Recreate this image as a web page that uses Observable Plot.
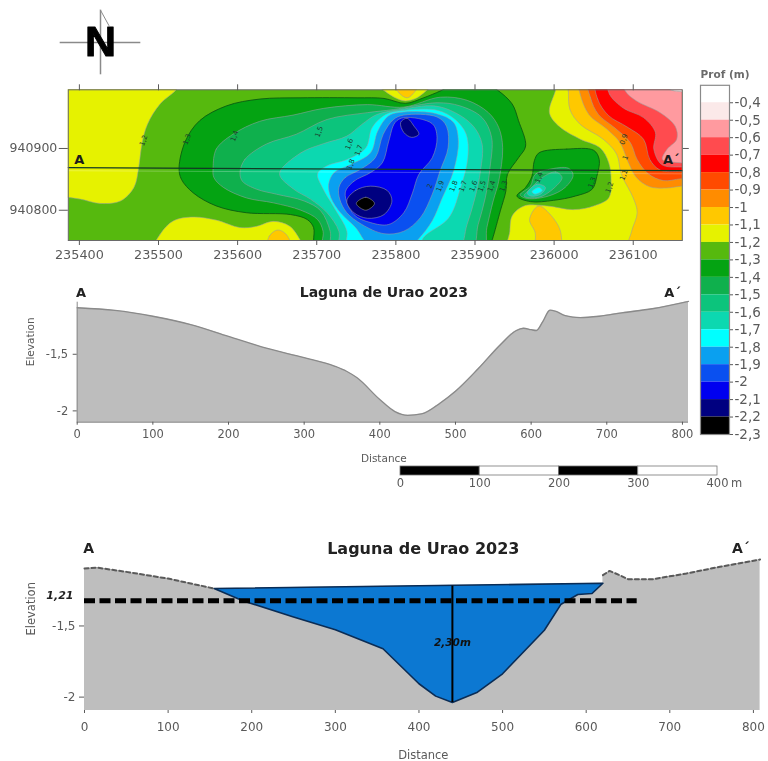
<!DOCTYPE html>
<html><head><meta charset="utf-8">
<script src="https://cdn.jsdelivr.net/npm/d3@7"></script>
<script src="https://cdn.jsdelivr.net/npm/@observablehq/plot@0.6"></script>
<style>
html,body{margin:0;background:#fff;overflow:hidden}
#page{position:relative;width:768px;height:761px;overflow:hidden}
#page svg{position:absolute;background:transparent;overflow:visible;filter:blur(0.45px)}
</style></head><body><div id="page"></div>
<script>
// ---------- legend ----------
const levelTicks = [-0.4,-0.5,-0.6,-0.7,-0.8,-0.9,-1,-1.1,-1.2,-1.3,-1.4,-1.5,-1.6,-1.7,-1.8,-1.9,-2,-2.1,-2.2,-2.3];
const levelTops = [-0.3,-0.4,-0.5,-0.6,-0.7,-0.8,-0.9,-1,-1.1,-1.2,-1.3,-1.4,-1.5,-1.6,-1.7,-1.8,-1.9,-2,-2.1,-2.2];
const levelColors = ["#ffffff","#fbe9e9","#ff9a9f","#ff4b4f","#ff0000","#ff4a00","#ff8c00","#ffc800","#e6f200","#56b90e","#04a312","#0fb04d","#0cc47c","#0cd8b0","#00ffff","#0aa0f0","#0a50f0","#0000f0","#000080","#000000"];
const colorOf = t => levelColors[levelTops.indexOf(t)];

// ---------- map contour bands (easting, northing) ----------
const yellowWest = [[235363,941020],[235534,941020],[235523,940996],[235502,940972],[235486,940939],[235479,940907],[235475,940869],[235469,940837],[235452,940815],[235426,940811],[235401,940818],[235384,940821],[235363,940823]];
const yellowSouth = [[235494,940734],[235502,940761],[235519,940783],[235544,940789],[235573,940784],[235603,940772],[235624,940774],[235645,940782],[235666,940774],[235680,940750],[235687,940734]];
const amberSouth = [[235638,940734],[235640,940758],[235651,940768],[235662,940760],[235668,940734]];
const dark13 = [[235526,940869],[235534,940912],[235552,940945],[235586,940969],[235628,940980],[235680,940982],[235751,940982],[235785,940981],[235812,940973],[235835,940982],[235856,940993],[235869,941001],[235919,941001],[235930,940993],[235947,940972],[235955,940945],[235964,940904],[235955,940885],[235941,940858],[235939,940831],[235932,940799],[235922,940753],[235917,940734],[235696,940734],[235696,940751],[235696,940772],[235688,940785],[235667,940793],[235611,940796],[235573,940807],[235544,940828],[235529,940850]];
const yellowNorth = [[235774,941007],[235787,940992],[235801,940981],[235812,940977],[235825,940981],[235837,940992],[235848,941007],[235812,941020]];
const amberNorth = [[235797,941007],[235804,940990],[235814,940982],[235822,940989],[235829,941007],[235814,941018]];
const band14 = [[235569,940869],[235573,940899],[235594,940923],[235628,940944],[235670,940954],[235709,940965],[235764,940971],[235810,940967],[235856,940983],[235890,940978],[235917,940958],[235930,940934],[235935,940901],[235930,940847],[235923,940815],[235915,940772],[235909,940734],[235709,940734],[235708,940766],[235701,940785],[235680,940800],[235645,940812],[235611,940820],[235582,940837],[235570,940853]];
const band15 = [[235603,940861],[235609,940882],[235636,940907],[235674,940923],[235713,940947],[235764,940958],[235797,940963],[235852,940974],[235881,940969],[235909,940950],[235921,940918],[235919,940869],[235913,940820],[235904,940777],[235894,940734],[235720,940734],[235717,940766],[235705,940799],[235684,940815],[235649,940826],[235624,940834],[235606,940847]];
const band16 = [[235653,940859],[235680,940893],[235709,940908],[235738,940920],[235757,940939],[235776,940955],[235806,940963],[235848,940969],[235875,940958],[235898,940936],[235909,940907],[235907,940864],[235900,940820],[235890,940777],[235877,940734],[235730,940734],[235728,940766],[235713,940796],[235692,940818],[235671,940834]];
const band17 = [[235701,940859],[235713,940872],[235738,940882],[235762,940901],[235770,940934],[235787,940955],[235806,940961],[235852,940962],[235875,940947],[235889,940923],[235891,940885],[235882,940837],[235867,940788],[235835,940756],[235827,940734],[235738,940734],[235738,940766],[235722,940804],[235707,940837]];
const band18 = [[235715,940842],[235722,940861],[235743,940874],[235768,940893],[235777,940928],[235791,940953],[235810,940959],[235852,940956],[235873,940942],[235879,940912],[235873,940864],[235858,940818],[235846,940783],[235829,940754],[235812,940735],[235772,940735],[235749,940772],[235730,940796],[235718,940820]];
const band19 = [[235728,940837],[235736,940853],[235755,940866],[235774,940885],[235784,940923],[235797,940947],[235810,940954],[235852,940951],[235864,940936],[235866,940901],[235856,940864],[235846,940826],[235831,940788],[235810,940766],[235785,940762],[235757,940777],[235738,940796],[235729,940818]];
const band20 = [[235736,940828],[235747,940847],[235768,940861],[235783,940877],[235791,940912],[235799,940942],[235810,940950],[235846,940940],[235852,940918],[235846,940885],[235829,940858],[235821,940828],[235810,940796],[235791,940777],[235768,940780],[235747,940793]];
const navySouth = [[235738,940815],[235749,940832],[235768,940839],[235789,940832],[235795,940815],[235785,940793],[235764,940787],[235747,940796]];
const navyNorth = [[235806,940942],[235814,940949],[235823,940936],[235829,940923],[235820,940918],[235810,940926]];
const blackSouth = [[235750,940811],[235762,940821],[235773,940811],[235762,940800]];
const island13 = [[235981,940893],[236016,940899],[236050,940897],[236057,940882],[236054,940855],[236048,940834],[236027,940823],[235999,940816],[235970,940814],[235953,940823],[235964,940837],[235972,940855],[235975,940880]];
const island14 = [[235976,940858],[235993,940866],[236018,940868],[236024,940857],[236014,940837],[235993,940823],[235966,940819],[235957,940825],[235970,940839]];
const island15 = [[235985,940853],[236002,940862],[236010,940853],[236000,940836],[235981,940821],[235962,940823],[235972,940837]];
const island16 = [[235966,940828],[235978,940842],[235989,940837],[235983,940826],[235970,940823]];
const island17 = [[235972,940830],[235981,940837],[235985,940832],[235976,940826]];
const yellowEast = [[236002,941009],[236002,940996],[235994,940958],[236007,940935],[236033,940915],[236058,940901],[236069,940877],[236072,940847],[236069,940820],[236050,940807],[236025,940801],[235991,940807],[235962,940807],[235947,940791],[235944,940766],[235943,940734],[236201,940734],[236201,941009]];
const amberEast = [[236017,941009],[236018,940993],[236020,940963],[236033,940939],[236062,940915],[236079,940891],[236085,940858],[236100,940820],[236105,940796],[236098,940766],[236094,940734],[236201,940734],[236201,941009]];
const amberIsland = [[235969,940785],[235980,940807],[235993,940796],[236008,940766],[236006,940734],[235978,940734],[235976,940764]];
const orangeEast = [[236032,941009],[236033,940988],[236044,940955],[236067,940931],[236083,940910],[236094,940877],[236104,940853],[236121,940838],[236142,940836],[236161,940839],[236201,940842],[236201,941009]];
const deepOrangeEast = [[236044,941009],[236046,940982],[236056,940955],[236077,940933],[236096,940910],[236105,940882],[236119,940859],[236138,940848],[236161,940851],[236201,940853],[236201,941009]];
const redEast = [[236054,941009],[236055,940980],[236069,940953],[236092,940935],[236113,940915],[236121,940882],[236134,940865],[236161,940863],[236201,940866],[236201,941009]];
const lightRedEast = [[236069,941009],[236070,940988],[236088,940965],[236113,940950],[236128,940926],[236126,940899],[236136,940874],[236161,940870],[236201,940872],[236201,941009]];
const pinkEast = [[236088,941009],[236090,940993],[236104,940977],[236134,940958],[236153,940936],[236155,940915],[236143,940899],[236137,940882],[236159,940877],[236201,940877],[236201,941009]];
const paleEast = [[236142,941009],[236146,940996],[236161,940992],[236201,940992],[236201,941009]];

const contourBands = [
  [-1.1,yellowWest],[-1.1,yellowSouth],[-1,amberSouth],[-1.3,dark13],[-1.1,yellowNorth],[-1,amberNorth],
  [-1.4,band14],[-1.5,band15],[-1.6,band16],[-1.7,band17],[-1.8,band18],[-1.9,band19],[-2,band20],
  [-2.1,navySouth],[-2.1,navyNorth],[-2.2,blackSouth],
  [-1.3,island13],[-1.4,island14],[-1.5,island15],[-1.6,island16],[-1.7,island17],
  [-1.1,yellowEast],[-1,amberEast],[-1,amberIsland],[-0.9,orangeEast],[-0.8,deepOrangeEast],[-0.7,redEast],[-0.6,lightRedEast],[-0.5,pinkEast],[-0.4,paleEast]
];
const contourLabelText = ["1,2","1,3","1,4","1,5","1,6","1,7","1,8","2","1,9","1,8","1,7","1,6","1,5","1,4","1,3","1,4","1,3","1,2","0,9","1","1,1"];
const contourLabelX = [235481,235536,235596,235703,235741,235753,235743,235843,235856,235873,235885,235898,235909,235921,235936,235981,236048,236070,236088,236090,236088];
const contourLabelY = [940913,940915,940920,940927,940907,940897,940874,940839,940839,940839,940839,940839,940839,940839,940839,940853,940845,940837,940915,940885,940857];
const mapTicksX = [235400,235500,235600,235700,235800,235900,236000,236100];
const mapTicksY = [940800,940900];
const sectionLine = [[235386,940869],[236162,940864]];
const sectionShadow = [[235386,940864],[236162,940859]];
const sectionLabels = [{t:"A",x:235400,y:940882},{t:"A´",x:236148,y:940882}];

// ---------- profile A–A' ----------
const profileX = [0,50,100,150,200,250,300,340,356,370,400,420,437,455,480,500,530,560,580,590,600,607,615,625,632,645,665,690,720,760,808];
const profileElev = [-1.089,-1.113,-1.164,-1.238,-1.342,-1.446,-1.53,-1.604,-1.65,-1.708,-1.9,-2.006,-2.039,-2.027,-1.93,-1.827,-1.628,-1.411,-1.292,-1.27,-1.283,-1.29,-1.217,-1.11,-1.119,-1.158,-1.176,-1.164,-1.134,-1.098,-1.033];
const profileRows = profileX.map((x,i)=>({x,e:profileElev[i]}));
const distTicks = [0,100,200,300,400,500,600,700,800];
const elevTicks = [-1.5,-2];

// ---------- lake section ----------
const shoreWestX = [0,15,50,100,155];
const shoreWestE = [-1.096,-1.09,-1.12,-1.167,-1.237];
const shoreEastX = [620,628,640,650,680,720,760,808];
const shoreEastE = [-1.143,-1.113,-1.143,-1.171,-1.171,-1.131,-1.084,-1.033];
const lakeX = [155,190,250,300,357,400,420,440,470,500,550,570,590,607,620];
const lakeE = [-1.237,-1.324,-1.437,-1.526,-1.66,-1.906,-1.993,-2.038,-1.965,-1.836,-1.53,-1.347,-1.279,-1.272,-1.2];
const shoreWest = shoreWestX.map((x,i)=>({x,e:shoreWestE[i]}));
const shoreEast = shoreEastX.map((x,i)=>({x,e:shoreEastE[i]}));
const lake = lakeX.map((x,i)=>({x,e:lakeE[i]}));
const groundRows = [...shoreWest,{x:620,e:-1.2},...shoreEast];
const waterLevel = -1.322, waterLevelEnd = 661, waterLevelLabel = "1,21";
const maxDepthX = 440, maxDepthTop = -1.22, maxDepthBottom = -2.038, maxDepthLabel = "2,30m";

// ---------- scale bar ----------
const scaleSegments = [{a:0,b:100,c:"#000"},{a:100,b:200,c:"#fff"},{a:200,b:300,c:"#000"},{a:300,b:400,c:"#fff"}];
const scaleTicks = [0,100,200,300,400];

// ---------- helpers ----------
const page = document.getElementById("page");
const comma = d => String(d).replace(".",",");
const baseStyle = {fontFamily:"'DejaVu Sans',sans-serif",fontSize:"12px",color:"#5a5a5a",background:"transparent"};
function place(options,left,top){
  const svg = Plot.plot({style:baseStyle,...options});
  svg.style.left = left+"px"; svg.style.top = top+"px";
  page.appendChild(svg);
}

// ---------- north arrow ----------
place({
  width:84,height:68,marginTop:0,marginRight:0,marginBottom:0,marginLeft:0,
  x:{domain:[-1,1],axis:null},y:{domain:[-1,1],axis:null},
  marks:[
    Plot.ruleX([0],{y1:-0.95,y2:0.95,stroke:"#8a8a8a",strokeWidth:1.5}),
    Plot.ruleY([0],{x1:-0.96,x2:0.96,stroke:"#8a8a8a",strokeWidth:1.5}),
    Plot.line([[0,0.95],[0.2,0.5]],{x:d=>d[0],y:d=>d[1],stroke:"#8a8a8a",strokeWidth:1}),
    Plot.text(["N"],{x:0,y:0,fontFamily:"'Liberation Sans',sans-serif",fontWeight:"bold",fontSize:43,fill:"#000",stroke:"#000",strokeWidth:1})
  ]
},58,8);

// ---------- map ----------
place({
  width:768,height:270,marginTop:89.3,marginRight:86.2,marginBottom:30,marginLeft:67.8,
  x:{domain:[235386,236162]},y:{domain:[940751,940995]},
  marks:[
    Plot.frame({fill:colorOf(-1.2),stroke:"none"}),
    ...contourBands.map(([level,pts])=>Plot.line(pts,{
      x:d=>d[0],y:d=>d[1],curve:"catmull-rom-closed",clip:true,
      fill:colorOf(level),
      stroke:level===-1.3?"#0b5d12":"#9aa0a0",
      strokeOpacity:level===-1.3?0.9:0.6,
      strokeWidth:level===-1.3?1:0.9
    })),
    Plot.line(sectionShadow,{x:d=>d[0],y:d=>d[1],stroke:"#ffffff",strokeOpacity:0.25,strokeWidth:1}),
    Plot.line(sectionLine,{x:d=>d[0],y:d=>d[1],stroke:"#123a24",strokeWidth:1.3}),
    Plot.text(contourLabelText,{x:(d,i)=>contourLabelX[i],y:(d,i)=>contourLabelY[i],text:d=>d,rotate:-70,fontSize:7,fill:"#1d3d2c"}),
    Plot.text(sectionLabels,{x:"x",y:"y",text:"t",fontWeight:"bold",fontSize:13,fill:"#1c1c1c"}),
    Plot.frame({stroke:"#6a6a6a"}),
    Plot.axisX({anchor:"bottom",ticks:mapTicksX,tickFormat:d=>String(d),label:null,tickSize:5,tickPadding:4,fontSize:12.8}),
    Plot.axisX({anchor:"top",ticks:mapTicksX,fill:"none",tickFormat:()=>"",label:null,tickSize:6}),
    Plot.axisY({anchor:"left",ticks:mapTicksY,tickFormat:d=>String(d),label:null,tickSize:9,tickPadding:2,fontSize:12.5}),
    Plot.axisY({anchor:"right",ticks:mapTicksY,fill:"none",tickFormat:()=>"",label:null,tickSize:6})
  ]
},0,0);

// ---------- legend ----------
place({
  width:78,height:365,marginTop:24.8,marginRight:39,marginBottom:-9,marginLeft:10,
  x:{domain:[0,1],axis:null},y:{domain:[-2.3,-0.3]},
  marks:[
    Plot.rect(levelTops,{x1:0,x2:1,y1:d=>d,y2:d=>d-0.1,fill:d=>levelColors[levelTops.indexOf(d)]}),
    Plot.frame({stroke:"#8a8a8a",strokeWidth:1.2}),
    Plot.axisY({anchor:"right",ticks:levelTicks,tickFormat:comma,label:null,tickSize:3,tickPadding:2,fontSize:13.5}),
    Plot.text(["Prof (m)"],{frameAnchor:"top",lineAnchor:"middle",dy:-11,dx:10,fontSize:10.5,fontWeight:"bold",fill:"#6a6a6a"})
  ]
},690,60);

// ---------- profile A-A' ----------
place({
  width:768,height:190,marginTop:21.7,marginRight:80,marginBottom:48.3,marginLeft:76.7,
  x:{domain:[0,808]},y:{domain:[-2.1,-1.04]},
  marks:[
    Plot.areaY(profileRows,{x:"x",y1:()=>-2.1,y2:"e",fill:"#bdbdbd",curve:"monotone-x"}),
    Plot.line(profileRows,{x:"x",y:"e",stroke:"#8a8a8a",strokeWidth:1.3,curve:"monotone-x"}),
    Plot.ruleX([0],{stroke:"#8a8a8a"}),
    Plot.ruleY([-2.1],{stroke:"#8a8a8a",strokeWidth:1.3}),
    Plot.axisX({ticks:distTicks,tickFormat:d=>String(d),label:null,tickSize:3,tickPadding:5,fontSize:11.5}),
    Plot.axisY({ticks:elevTicks,tickFormat:comma,label:null,tickSize:4,fontSize:11.5}),
    Plot.text(["Distance"],{frameAnchor:"bottom",lineAnchor:"middle",dy:36,dx:1,fontSize:10.5}),
    Plot.text(["Elevation"],{frameAnchor:"left",rotate:-90,dx:-47,dy:4,fontSize:10.5}),
    Plot.text(["Laguna de Urao 2023"],{frameAnchor:"top",lineAnchor:"middle",dy:-10,dx:1,fontWeight:"bold",fontSize:14,fill:"#222"}),
    Plot.text([{t:"A",x:5},{t:"A´",x:787}],{x:"x",y:()=>-0.953,text:"t",fontWeight:"bold",fontSize:13,fill:"#222"})
  ]
},0,280);

// ---------- scale bar ----------
place({
  width:378,height:35,marginTop:6,marginRight:51,marginBottom:20,marginLeft:10,
  x:{domain:[0,400]},y:{domain:[0,1],axis:null},
  marks:[
    Plot.rect(scaleSegments,{x1:"a",x2:"b",y1:()=>0,y2:()=>1,fill:"c",stroke:"#777",strokeWidth:0.8}),
    Plot.axisX({ticks:scaleTicks,tickFormat:d=>String(d),label:null,tickSize:0,tickPadding:3,fontSize:11.5}),
    Plot.text(["m"],{x:()=>400,y:()=>0,dx:19,dy:8,fontSize:11.5})
  ]
},390,460);

// ---------- lake section ----------
place({
  width:768,height:221,marginTop:20,marginRight:8.4,marginBottom:51,marginLeft:84,
  x:{domain:[0,808]},y:{domain:[-2.094,-1.04]},
  marks:[
    Plot.areaY(groundRows,{x:"x",y1:()=>-2.094,y2:"e",fill:"#bebebe"}),
    Plot.line(lake,{x:"x",y:"e",curve:"linear-closed",fill:"#0c78d2",stroke:"#0a2c55",strokeWidth:1.6}),
    Plot.line(shoreWest,{x:"x",y:"e",stroke:"#5a5a5a",strokeWidth:2,strokeDasharray:"4 3"}),
    Plot.line(shoreEast,{x:"x",y:"e",stroke:"#5a5a5a",strokeWidth:2,strokeDasharray:"4 3"}),
    Plot.ruleY([waterLevel],{x1:()=>0,x2:()=>waterLevelEnd,stroke:"#000",strokeWidth:5,strokeDasharray:"11 4.5"}),
    Plot.ruleX([maxDepthX],{y1:()=>maxDepthTop,y2:()=>maxDepthBottom,stroke:"#000",strokeWidth:2}),
    Plot.text([maxDepthLabel],{x:()=>maxDepthX,y:()=>-1.62,fontSize:10.5,fontWeight:"bold",fontStyle:"italic",fill:"#111"}),
    Plot.text([waterLevelLabel],{x:()=>0,y:()=>-1.284,textAnchor:"end",dx:-11,fontSize:11,fontWeight:"bold",fontStyle:"italic",fill:"#222"}),
    Plot.axisX({ticks:distTicks,tickFormat:d=>String(d),label:null,tickSize:3,tickPadding:9,fontSize:12}),
    Plot.axisY({ticks:elevTicks,tickFormat:comma,label:null,tickSize:5,fontSize:12}),
    Plot.text(["Distance"],{frameAnchor:"bottom",lineAnchor:"middle",dy:45,dx:1,fontSize:11.5}),
    Plot.text(["Elevation"],{frameAnchor:"left",rotate:-90,dx:-53,fontSize:11.5}),
    Plot.text(["Laguna de Urao 2023"],{frameAnchor:"top",lineAnchor:"middle",dy:-12,dx:1,fontWeight:"bold",fontSize:16,fill:"#222"}),
    Plot.text([{t:"A",x:5},{t:"A´",x:785}],{x:"x",y:()=>-0.955,text:"t",fontWeight:"bold",fontSize:14,fill:"#222"})
  ]
},0,540);
</script></body></html>
